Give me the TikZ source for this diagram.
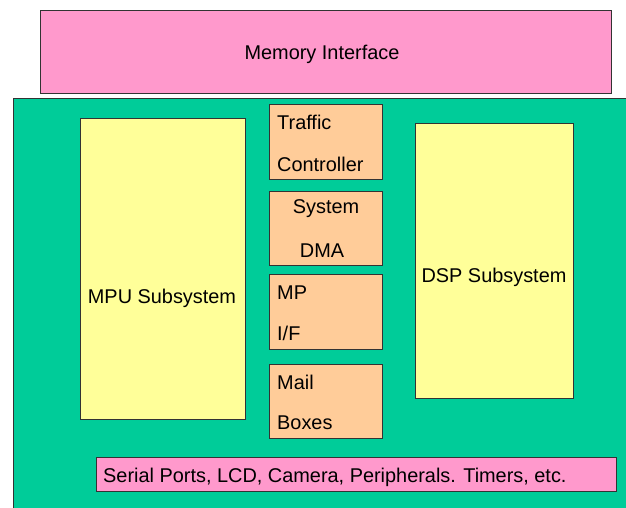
\documentclass[tikz,border=0pt]{standalone}
\usepackage{fontspec}
\setmainfont{Liberation Sans}
\definecolor{pinkfill}{HTML}{FF99CC}
\definecolor{greenfill}{HTML}{00CC99}
\definecolor{yellowfill}{HTML}{FFFF99}
\definecolor{orangefill}{HTML}{FFCC99}
\definecolor{edge}{HTML}{333333}
\tikzset{
  blk/.style={draw=edge, line width=1pt, inner sep=0pt, anchor=north west},
  lbl/.style={inner sep=0pt, font=\fontsize{19.9}{23}\selectfont},
}
\begin{document}
\begin{tikzpicture}[x=1pt, y=-1pt]
  \useasboundingbox (0,0) rectangle (626,508);
  \clip (0,0) rectangle (626,508);
  % chip outline
  \node[blk, fill=greenfill, minimum width=630, minimum height=420] (chip) at (13,98) {};
  % memory interface on top
  \node[blk, fill=pinkfill, minimum width=571, minimum height=83] (mem) at (40,10) {};
  \node[lbl, anchor=base] (memt) at (322,60) {Memory Interface};
  % processor subsystems
  \node[blk, fill=yellowfill, minimum width=165, minimum height=301] (mpu) at (80,118) {};
  \node[lbl, anchor=base] (mput) at (162,303) {MPU Subsystem};
  \node[blk, fill=yellowfill, minimum width=158, minimum height=275] (dsp) at (415,123) {};
  \node[lbl, anchor=base] (dspt) at (494,282) {DSP Subsystem};
  % central blocks
  \node[blk, fill=orangefill, minimum width=113, minimum height=75] (tc) at (269,104) {};
  \node[lbl, anchor=base west] (tc1) at (277,130) {Traffic};
  \node[lbl, anchor=base west] (tc2) at (277,171) {Controller};
  \node[blk, fill=orangefill, minimum width=113, minimum height=74] (dma) at (269,191) {};
  \node[lbl, anchor=base] (dma1) at (326,213) {System};
  \node[lbl, anchor=base] (dma2) at (322,257) {DMA};
  \node[blk, fill=orangefill, minimum width=113, minimum height=75] (mpif) at (269,274) {};
  \node[lbl, anchor=base west] (mpif1) at (277,299) {MP};
  \node[lbl, anchor=base west] (mpif2) at (277,340) {I/F};
  \node[blk, fill=orangefill, minimum width=113, minimum height=74] (mail) at (269,364) {};
  \node[lbl, anchor=base west] (mail1) at (277,389) {Mail};
  \node[lbl, anchor=base west] (mail2) at (277,429) {Boxes};
  % peripherals strip
  \node[blk, fill=pinkfill, minimum width=520, minimum height=34] (per) at (96,457) {};
  \node[lbl, anchor=base west] (pert) at (103,482) {Serial Ports, LCD, Camera, Peripherals. Timers, etc.};
\end{tikzpicture}
\end{document}
